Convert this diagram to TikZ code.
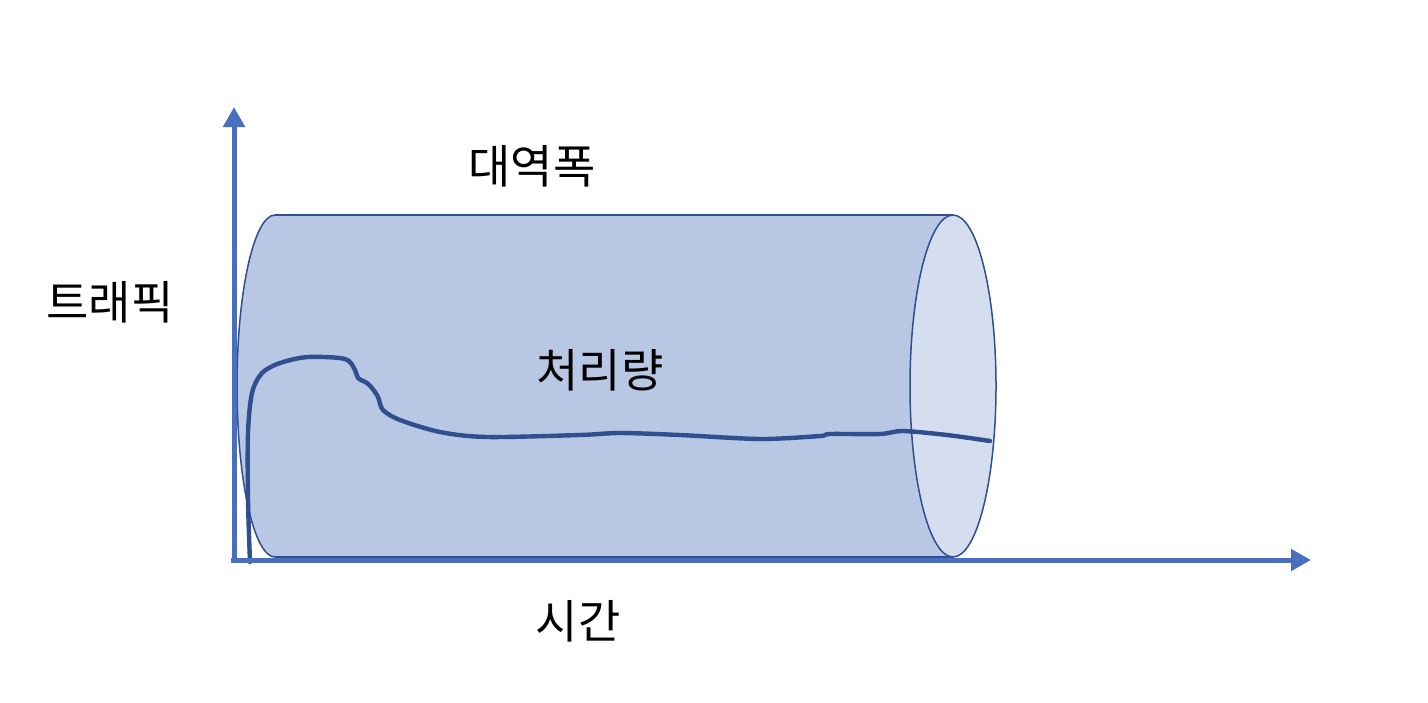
\documentclass[tikz,border=0pt]{standalone}
\usepackage{fontspec}
\newfontfamily\krfont{Noto Sans CJK KR}
\usepackage{tikz}
\usetikzlibrary{arrows.meta}
\definecolor{axisblue}{HTML}{4A6FBE}
\definecolor{darkblue}{HTML}{2F4F8F}
\definecolor{bodyfill}{HTML}{B8C7E3}
\definecolor{capfill}{HTML}{D4DEEF}
\tikzset{% styles of the picture
        axis/.style={axisblue, line width=2.5pt, -{Triangle[length=10pt,width=10.5pt]}},
        rim/.style={darkblue, line width=0.75pt},
        label/.style={font=\krfont\fontsize{23}{27}\selectfont, inner sep=0pt}
        }

\begin{document}
\begin{tikzpicture}[x=0.5pt,y=-0.5pt]
\useasboundingbox (0,0) rectangle (1428,702);

% cylinder body
\fill[bodyfill] (275,215) -- (953,215) -- (953,557) -- (275,557)
  arc[start angle=90, end angle=270, x radius=38, y radius=171] -- cycle;
\draw[rim] (275,215) -- (953,215);
\draw[rim] (275,557) -- (953,557);
\draw[rim] (275,215) arc[start angle=270, end angle=90, x radius=38, y radius=171];
\draw[rim, fill=capfill] (953,386) ellipse [x radius=43, y radius=171];

% throughput
\draw[darkblue, line width=2.2pt, line cap=round, line join=round] plot[smooth, tension=0.5] coordinates {
  (250,562) (248,500) (248,433) (252,393) (262,373) (280,363) (308,357)
  (345,359) (355,370) (358,378) (367,383) (372,388) (378,397) (383,410) (400,420)
  (440,432) (487,437) (580,435) (620,433) (680,435) (760,439) (820,436)
  (830,434) (880,434) (903,431) (947,435) (990,441)};

% axes
\coordinate (origin) at (234,562);
\coordinate (ytop) at (234,107);
\coordinate (xstart) at (231,560);
\coordinate (xend) at (1311,560);
\draw[axis] (origin) -- (ytop);
\draw[axis] (xstart) -- (xend);

\node[label] (bandwidth) at (532,166) {대역폭};
\node[label] (traffic) at (110,302) {트래픽};
\node[label] (throughput) at (600,370) {처리량};
\node[label] (time) at (578,621) {시간};
\end{tikzpicture}
\end{document}
